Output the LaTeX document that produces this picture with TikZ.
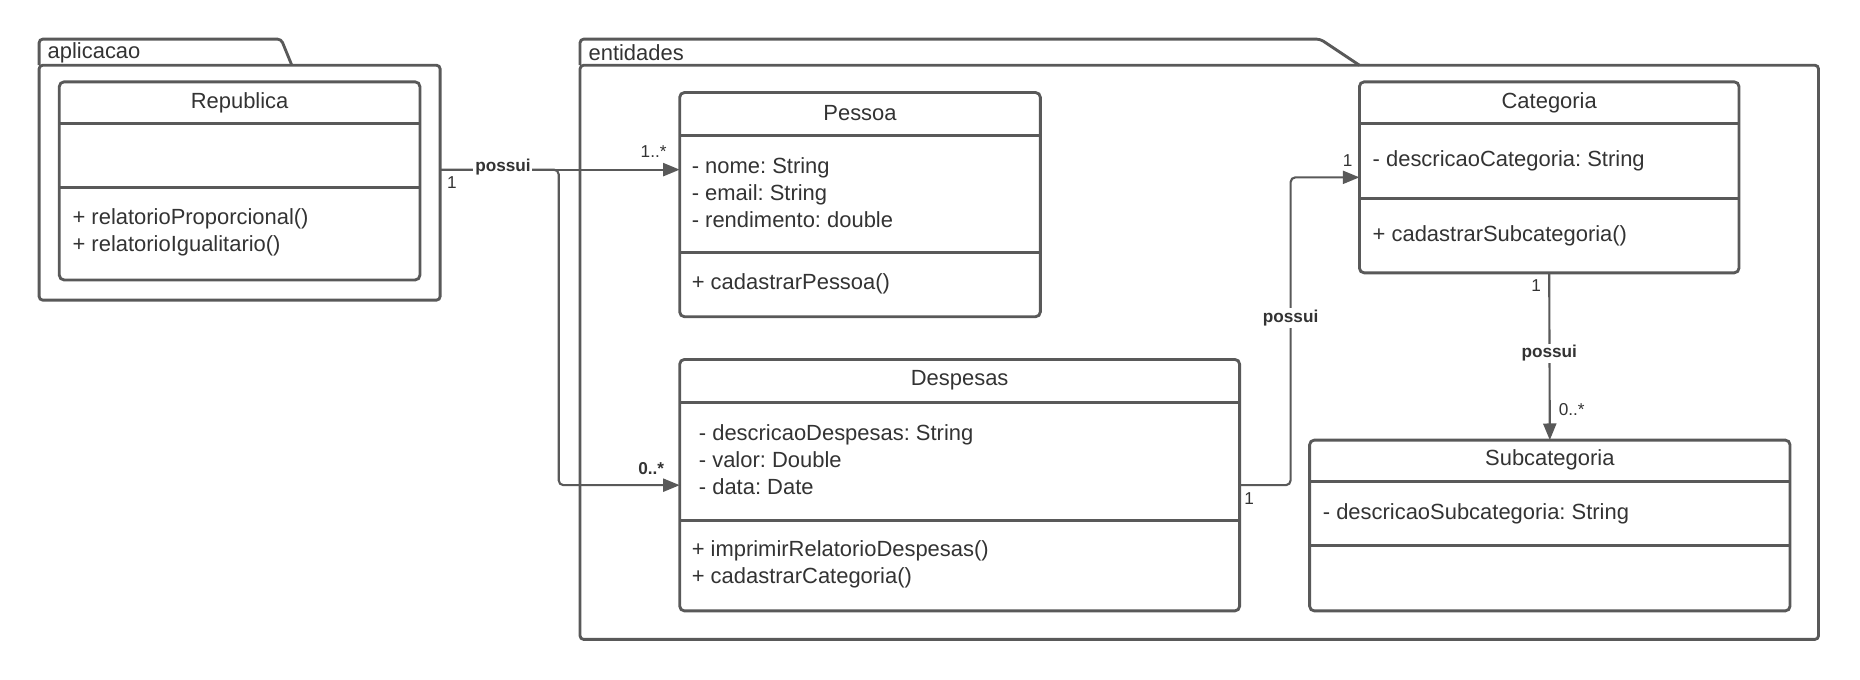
\documentclass[tikz,border=0pt]{standalone}
\usepackage{fontspec}
\setmainfont{Liberation Sans}
\usetikzlibrary{arrows.meta,positioning}
\frenchspacing

\definecolor{linegray}{HTML}{595959}
\definecolor{textgray}{HTML}{333333}

\begin{document}
\begin{tikzpicture}[x=1pt, y=-1pt,
		pkg/.style={draw=linegray, line width=2.4pt, rounded corners=3pt, inner sep=0pt, outer sep=0pt},
		classbox/.style={draw=linegray, line width=2.4pt, rounded corners=4pt, fill=white, inner sep=0pt, outer sep=0pt},
		divline/.style={draw=linegray, line width=2.4pt},
		txt/.style={text=textgray, font=\fontsize{18.5}{23}\selectfont, inner sep=0pt, align=left, yshift=-1.5pt},
		members/.style={txt, anchor=west},
		assoc/.style={draw=linegray, line width=1.8pt, rounded corners=4pt, -{Triangle[length=14pt, width=11pt]}},
		lbl/.style={fill=white, text=textgray, font=\fontsize{14.5}{16}\selectfont\bfseries, inner sep=1.5pt},
		mult/.style={text=textgray, font=\fontsize{14.5}{16}\selectfont, inner sep=0pt}]
				\useasboundingbox (0,0) rectangle (1568,573);

				% Package aplicacao
				\draw[pkg] (33,55) -- (33,33) -- (237,33) -- (246,55);
				\node[pkg, minimum width=338, minimum height=198] (aplicacao) at (202,154) {};
				\node[txt, anchor=west] (aplicacaoLabel) at (40,43) {aplicacao};

				% Package entidades
				\draw[pkg] (489,55) -- (489,33) -- (1113,33) -- (1146,55);
				\node[pkg, minimum width=1044, minimum height=484] (entidades) at (1011,297) {};
				\node[txt, anchor=west] (entidadesLabel) at (496,43) {entidades};

				% Republica
				\node[classbox, minimum width=304, minimum height=167] (republica) at (202,152.5) {};
				\node[txt] (republicaTitle) at (202,85) {Republica};
				\draw[divline] (50,104) -- (354,104);
				\draw[divline] (50,158) -- (354,158);
				\node[members] (republicaOps) at (61,194.5) {+ relatorioProporcional()\\+ relatorioIgualitario()};

				% Pessoa
				\node[classbox, minimum width=304, minimum height=189] (pessoa) at (725,172.5) {};
				\node[txt] (pessoaTitle) at (725,94) {Pessoa};
				\draw[divline] (573,114) -- (877,114);
				\draw[divline] (573,213) -- (877,213);
				\node[members] (pessoaAttrs) at (583,161) {- nome: String\\- email: String\\- rendimento: double};
				\node[members] (pessoaOps) at (583,238) {+ cadastrarPessoa()};

				% Despesas
				\node[classbox, minimum width=472, minimum height=212] (despesas) at (809,409) {};
				\node[txt] (despesasTitle) at (809,319) {Despesas};
				\draw[divline] (573,339) -- (1045,339);
				\draw[divline] (573,439) -- (1045,439);
				\node[members] (despesasAttrs) at (589,386) {- descricaoDespesas: String\\- valor: Double\\- data: Date};
				\node[members] (despesasOps) at (583,474.5) {+ imprimirRelatorioDespesas()\\+ cadastrarCategoria()};

				% Categoria
				\node[classbox, minimum width=320, minimum height=161] (categoria) at (1306,149.5) {};
				\node[txt] (categoriaTitle) at (1306,85) {Categoria};
				\draw[divline] (1146,104) -- (1466,104);
				\draw[divline] (1146,167) -- (1466,167);
				\node[members] (categoriaAttrs) at (1157,134) {- descricaoCategoria: String};
				\node[members] (categoriaOps) at (1157,197) {+ cadastrarSubcategoria()};

				% Subcategoria
				\node[classbox, minimum width=405, minimum height=144] (subcategoria) at (1306.5,443) {};
				\node[txt] (subcategoriaTitle) at (1306.5,386) {Subcategoria};
				\draw[divline] (1104,406) -- (1509,406);
				\draw[divline] (1104,460) -- (1509,460);
				\node[members] (subcategoriaAttrs) at (1115,432) {- descricaoSubcategoria: String};

				% Associations
				\coordinate (aplOut) at ([yshift=11pt]aplicacao.east);
				\coordinate (bendA) at (471,143);
				\coordinate (bendB) at (1088,268);
				\draw[assoc] (aplOut) -- (aplOut -| pessoa.west);
				\draw[assoc] (aplOut) -- (bendA) |- (despesas.west);
				\draw[assoc] (despesas.east) -| (bendB) |- (categoria.west);
				\draw[assoc] (categoria.south) -- (subcategoria.north);

				% Association labels
				\node[lbl] (possuiA) at (424,141) {possui};
				\node[lbl] (possuiB) at (bendB) {possui};
				\node[lbl] (possuiC) at (1306,298) {possui};

				% Multiplicities
				\node[mult] (multAplicacao) at (381,154) {1};
				\node[mult] (multPessoa) at (551,128) {1..*};
				\node[mult, font=\fontsize{14.5}{16}\selectfont\bfseries] (multDespesasIn) at (549,395) {0..*};
				\node[mult] (multDespesasOut) at (1053,420) {1};
				\node[mult] (multCategoriaIn) at (1136,135) {1};
				\node[mult] (multCategoriaOut) at (1295,241) {1};
				\node[mult] (multSubcategoria) at (1325,345) {0..*};
			\end{tikzpicture}
\end{document}
